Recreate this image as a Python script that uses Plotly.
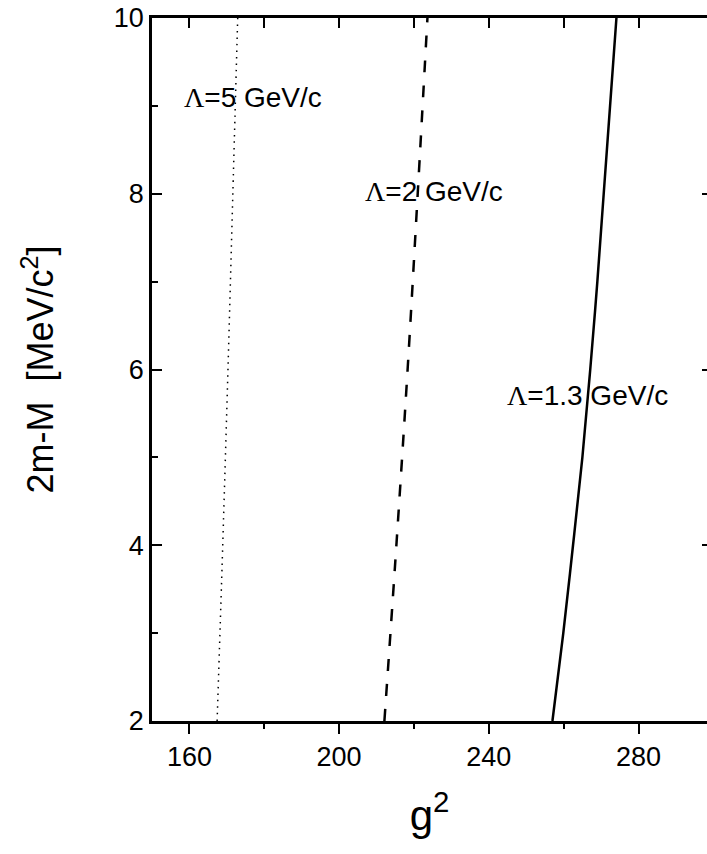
import plotly.graph_objects as go

# Data
y_vals = [2, 3, 4, 5, 6, 7, 8, 9, 10]
g2_L13 = [257.0, 259.9, 262.5, 265.0, 267.1, 269.0, 270.7, 272.4, 274.1]
y_vals_L2 = [2, 4, 6, 8, 10]
g2_L2 = [212.1, 215.3, 218.3, 221.0, 223.6]
y_vals_L5 = [2, 4, 6, 8, 10]
g2_L5 = [167.4, 168.9, 170.3, 171.6, 172.9]

labels = ["5", "2", "1.3"]
label_x = [158.1, 206.5, 244.4]
label_y = [9.10, 8.02, 5.70]

x_ticks = [160, 200, 240, 280]
y_ticks = [2, 4, 6, 8, 10]

FONT = "Liberation Sans, Arial, sans-serif"

fig = go.Figure()
fig.add_trace(go.Scatter(x=g2_L5, y=y_vals_L5, mode="lines",
                         line=dict(color="black", width=1.5, dash="1.5px,5px"),
                         line_shape="spline", showlegend=False))
fig.add_trace(go.Scatter(x=g2_L2, y=y_vals_L2, mode="lines",
                         line=dict(color="black", width=2.5, dash="12px,13px"),
                         line_shape="spline", showlegend=False))
fig.add_trace(go.Scatter(x=g2_L13, y=y_vals, mode="lines",
                         line=dict(color="black", width=2.5),
                         line_shape="spline", showlegend=False))

for lab, lx, ly in zip(labels, label_x, label_y):
    fig.add_annotation(
        x=lx, y=ly, xref="x", yref="y", xanchor="left", yanchor="middle",
        text="<span style='font-family:Liberation Serif, Times New Roman, serif'>Λ</span>=" + lab + " GeV/c",
        showarrow=False, font=dict(family=FONT, size=28, color="black"))

fig.update_layout(
    width=707, height=854,
    margin=dict(l=152, r=0, t=18, b=133),
    paper_bgcolor="white", plot_bgcolor="white",
    font=dict(family=FONT, color="black"),
    xaxis=dict(range=[150, 298.3], tickvals=x_ticks, ticks="outside", ticklen=10,
               tickwidth=2, tickcolor="black", showline=True, linewidth=2.5,
               linecolor="black", showgrid=False, zeroline=False,
               tickfont=dict(size=27, family=FONT),
               minor=dict(ticks="outside", ticklen=5, tickwidth=2, dtick=20, tick0=160,
                          tickcolor="black"),
               title=dict(text="g<sup>2</sup>", font=dict(size=42, family=FONT), standoff=30)),
    xaxis2=dict(range=[150, 298.3], overlaying="x", side="top", ticks="inside",
                ticklen=10, tickwidth=2, tickcolor="black", dtick=20, tick0=160,
                showticklabels=False, showline=True, linewidth=2.5, linecolor="black",
                showgrid=False, zeroline=False),
    yaxis=dict(range=[2, 10], tickvals=y_ticks, ticks="inside", ticklen=10,
               tickwidth=2, tickcolor="black", showline=True, linewidth=2.5,
               linecolor="black", showgrid=False, zeroline=False,
               tickfont=dict(size=27, family=FONT),
               minor=dict(ticks="inside", ticklen=6, tickwidth=2, dtick=1, tick0=2,
                          tickcolor="black"),
               title=dict(text="2m-M  [MeV/c<sup>2</sup>]", font=dict(size=36, family=FONT),
                          standoff=50)),
    yaxis2=dict(range=[2, 10], overlaying="y", side="right", ticks="inside",
                ticklen=5, tickwidth=2, tickcolor="black", tickvals=y_ticks,
                showticklabels=False, showline=False, showgrid=False, zeroline=False),
)
# invisible trace to activate secondary axes
fig.add_trace(go.Scatter(x=[150], y=[2], xaxis="x2", yaxis="y2", mode="markers",
                         marker=dict(opacity=0), showlegend=False, hoverinfo="skip"))

fig.write_html("out.html")
